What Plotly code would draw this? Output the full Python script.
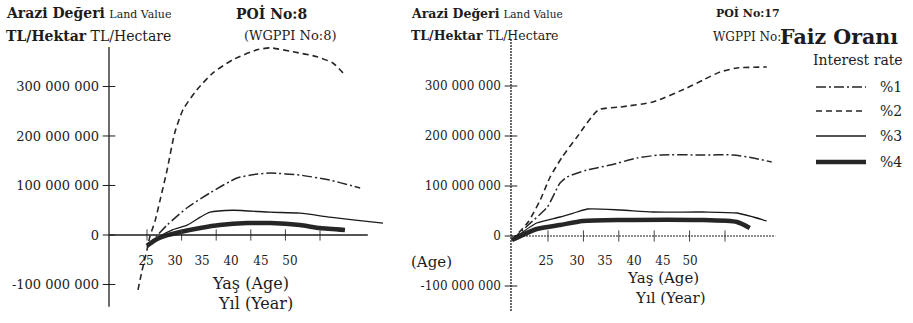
import plotly.graph_objects as go

W, H = 913, 323
FONT = "DejaVu Serif"
INK = "#1c1c1c"

# ---------------- data (values in TL/ha) ----------------
series_names = ["%1", "%2", "%3", "%4"]

# POİ No:8 (left panel)
p8_age_r1 = [25.0, 26.4, 27.9, 30.8, 34.1, 38.0, 40.9, 42.8, 47.1, 51.4, 55.8]
p8_val_r1 = [-24e6, -2e6, 20e6, 55e6, 85e6, 115e6, 123e6, 125e6, 121e6, 111e6, 95e6]
p8_age_r2 = [23.7, 24.3, 25.0, 25.4, 26.2, 26.9, 27.9, 29.0, 30.2, 32.2, 34.5, 37.4, 40.9, 42.8, 46.1, 49.6, 51.9, 53.6]
p8_val_r2 = [-111e6, -71e6, -30e6, -4e6, 30e6, 71e6, 131e6, 206e6, 253e6, 293e6, 327e6, 354e6, 374e6, 378e6, 370e6, 360e6, 347e6, 323e6]
p8_age_r3 = [25.0, 26.9, 28.6, 30.8, 32.7, 34.1, 37.4, 42.8, 47.1, 51.4, 55.1, 59.1]
p8_val_r3 = [-22e6, -2e6, 10e6, 20e6, 36e6, 46e6, 50e6, 46e6, 44e6, 36e6, 30e6, 24e6]
p8_age_r4 = [25.0, 26.2, 27.6, 29.8, 32.7, 35.5, 39.5, 42.8, 47.1, 50.0, 53.6]
p8_val_r4 = [-22e6, -10e6, -2e6, 6e6, 14e6, 20e6, 24e6, 24e6, 20e6, 14e6, 10e6]

# POİ No:17 (right panel)
p17_age_r1 = [19.9, 22.2, 24.9, 26.7, 27.7, 30.5, 33.8, 37.6, 40.8, 46.9, 51.1, 54.0, 56.6]
p17_val_r1 = [-8e6, 22e6, 58e6, 106e6, 118e6, 132e6, 142e6, 156e6, 162e6, 162e6, 162e6, 156e6, 148e6]
p17_age_r2 = [19.9, 22.2, 23.9, 25.3, 27.0, 29.1, 32.1, 35.2, 39.8, 44.6, 46.9, 49.3, 51.7, 55.9]
p17_val_r2 = [-8e6, 28e6, 72e6, 118e6, 158e6, 198e6, 252e6, 258e6, 268e6, 296e6, 312e6, 328e6, 336e6, 338e6]
p17_age_r3 = [19.9, 23.4, 26.7, 29.1, 30.6, 35.2, 39.8, 46.9, 51.7, 54.0, 55.9]
p17_val_r3 = [-8e6, 26e6, 38e6, 48e6, 54e6, 52e6, 48e6, 48e6, 46e6, 38e6, 30e6]
p17_age_r4 = [19.9, 23.4, 26.7, 29.9, 35.2, 46.5, 51.7, 53.5]
p17_val_r4 = [-8e6, 14e6, 22e6, 30e6, 32e6, 32e6, 28e6, 16e6]

# ticks
y_tick_vals = [-100e6, 0, 100e6, 200e6, 300e6]
y_tick_text = ["-100 000 000", "0", "100 000 000", "200 000 000", "300 000 000"]
x_tick_vals = [25, 30, 35, 40, 45, 50]
x_label_text = ["25", "30", "35", "40", "45", "50"]
p8_label_pos = [24.86, 29.05, 32.95, 37.14, 41.47, 45.66]
p17_label_pos = [24.72, 29.10, 33.05, 37.15, 41.24, 45.06]

# ---------------- styles ----------------
dashes = ["10px,3px,2px,3px", "6px,4px", "solid", "solid"]
widths = [1.5, 1.6, 1.3, 4.5]
colors = ["#262626", "#262626", "#1a1a1a", "#262626"]

# ---------------- geometry ----------------
def pxx(p):
    return p / W

def pxy(p):
    return 1 - p / H

L_XR = [18.21, 60.40]
R_XR = [18.50, 59.89]
L_YR = [-167.7e6, 414.1e6]
R_YR = [-164e6, 412e6]
L_AXIS_X = 19.51
R_AXIS_X = 19.77

fig = go.Figure()

panels = [
    ("x", "y", [p8_age_r1, p8_age_r2, p8_age_r3, p8_age_r4], [p8_val_r1, p8_val_r2, p8_val_r3, p8_val_r4]),
    ("x2", "y2", [p17_age_r1, p17_age_r2, p17_age_r3, p17_age_r4], [p17_val_r1, p17_val_r2, p17_val_r3, p17_val_r4]),
]
for xa, ya, ages, vals in panels:
    for i in range(4):
        fig.add_trace(go.Scatter(
            x=ages[i], y=vals[i], mode="lines", xaxis=xa, yaxis=ya,
            line=dict(color=colors[i], width=widths[i], dash=dashes[i], shape="spline", smoothing=0.6),
            name=series_names[i], showlegend=False, hoverinfo="skip"))

# crossing tick marks
for xa, ya, ax_x in [("x", "y", L_AXIS_X), ("x2", "y2", R_AXIS_X)]:
    fig.add_trace(go.Scatter(
        x=[ax_x] * len(y_tick_vals), y=y_tick_vals, mode="markers", xaxis=xa, yaxis=ya,
        marker=dict(symbol="line-ew", size=9, line=dict(color=INK, width=1)),
        showlegend=False, hoverinfo="skip"))
    fig.add_trace(go.Scatter(
        x=x_tick_vals, y=[0] * len(x_tick_vals), mode="markers", xaxis=xa, yaxis=ya,
        marker=dict(symbol="line-ns", size=8, line=dict(color="#444", width=1)),
        showlegend=False, hoverinfo="skip"))

axis_common = dict(showgrid=False, zeroline=False, showline=False, ticks="")
fig.update_layout(
    width=W, height=H, margin=dict(l=0, r=0, t=0, b=0),
    paper_bgcolor="white", plot_bgcolor="white", showlegend=False,
    font=dict(family=FONT, color=INK),
    xaxis=dict(domain=[pxx(100), pxx(392)], range=L_XR, anchor="free", position=pxy(252),
               tickvals=p8_label_pos, ticktext=x_label_text,
               tickfont=dict(family=FONT, size=12, color=INK), **axis_common),
    yaxis=dict(domain=[pxy(318), pxy(30)], range=L_YR, anchor="x",
               tickvals=y_tick_vals, ticktext=y_tick_text,
               tickfont=dict(family=FONT, size=13, color=INK), **axis_common),
    xaxis2=dict(domain=[pxx(502), pxx(795)], range=R_XR, anchor="free", position=pxy(252),
                tickvals=p17_label_pos, ticktext=x_label_text,
                tickfont=dict(family=FONT, size=12, color=INK), **axis_common),
    yaxis2=dict(domain=[pxy(318), pxy(30)], range=R_YR, anchor="x2",
                tickvals=y_tick_vals, ticktext=y_tick_text,
                tickfont=dict(family=FONT, size=12, color=INK), **axis_common),
)

# axis lines
shapes = [
    dict(type="line", xref="x", yref="y", x0=L_AXIS_X, x1=L_AXIS_X, y0=-145e6, y1=380e6,
         line=dict(color=INK, width=1.3)),
    dict(type="line", xref="x", yref="y", x0=L_AXIS_X, x1=56.9, y0=0, y1=0,
         line=dict(color=INK, width=1.3)),
    dict(type="line", xref="x2", yref="y2", x0=R_AXIS_X, x1=R_AXIS_X, y0=-150e6, y1=395e6,
         line=dict(color=INK, width=1.3, dash="2px,1px")),
    dict(type="line", xref="x2", yref="y2", x0=R_AXIS_X, x1=57.1, y0=0, y1=0,
         line=dict(color=INK, width=1.2, dash="2px,1px")),
]

# manual legend
leg_rows = [87, 111, 136, 162]
for i, py in enumerate(leg_rows):
    shapes.append(dict(type="line", xref="paper", yref="paper",
                       x0=pxx(816), x1=pxx(866), y0=pxy(py), y1=pxy(py),
                       line=dict(color=colors[i], width=widths[i], dash=dashes[i])))
fig.update_layout(shapes=shapes)

def txt(s, x, y, size, xanchor="left", bold=False):
    fig.add_annotation(text=(f"<b>{s}</b>" if bold else s), x=pxx(x), y=pxy(y),
                       xref="paper", yref="paper", xanchor=xanchor, yanchor="middle",
                       showarrow=False, font=dict(family=FONT, size=size, color=INK))

# left panel titles
txt("<b>Arazi Değeri</b> <span style='font-size:11px'>Land Value</span>", 4, 13, 14)
txt("<b>TL/Hektar</b> TL/Hectare", 4, 36, 14)
txt("POİ No:8", 234, 13, 14, bold=True)
txt("(WGPPI No:8)", 242, 36, 13)
txt("Yaş (Age)", 250, 283, 16, xanchor="center")
txt("Yıl (Year)", 255, 303, 16, xanchor="center")

# right panel titles
txt("<b>Arazi Değeri</b> <span style='font-size:10.5px'>Land Value</span>", 409, 13, 12.5)
txt("<b>TL/Hektar</b> TL/Hectare", 409, 36, 12.5)
txt("POİ No:17", 714, 13, 11, bold=True)
txt("WGPPI No:", 711, 37, 12)
txt("(Age)", 409, 262, 15)
txt("Yaş (Age)", 663, 278, 15, xanchor="center")
txt("Yıl (Year)", 670, 298, 15, xanchor="center")

# legend texts
txt("Faiz Oranı", 778, 37, 20.5, bold=True)
txt("Interest rate", 811, 60, 14)
for i, py in enumerate(leg_rows):
    txt(series_names[i], 878, py, 14)

fig.write_html("out.html", config={"displayModeBar": False},
               post_script="document.body.style.margin='0';")
